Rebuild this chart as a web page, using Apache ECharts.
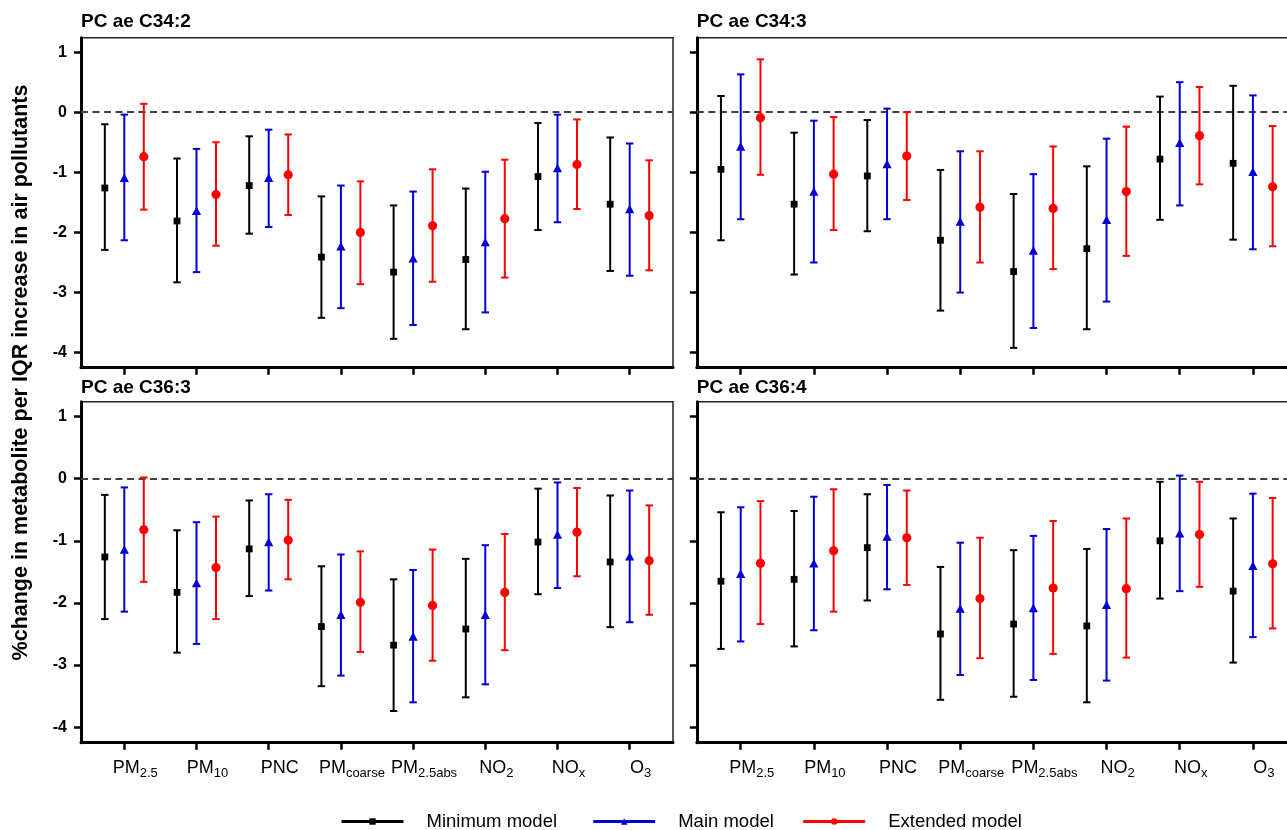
<!DOCTYPE html>
<html>
<head>
<meta charset="utf-8">
<script src="https://cdn.jsdelivr.net/npm/echarts@6/dist/echarts.min.js"></script>
<style>
  html, body { margin: 0; padding: 0; background: #fff; }
  #chart { width: 1287px; height: 830px; }
</style>
</head>
<body>
<div id="chart"></div>
<script>
// Pollutant labels: main text and subscript
const pollutantMain = ['PM', 'PM', 'PNC', 'PM', 'PM', 'NO', 'NO', 'O'];
const pollutantSub = ['2.5', '10', '', 'coarse', '2.5abs', '2', 'x', '3'];
const yTickValues = [-4, -3, -2, -1, 0, 1];
const panelTitles = ['PC ae C34:2', 'PC ae C34:3', 'PC ae C36:3', 'PC ae C36:4'];
const modelNames = ['Minimum model', 'Main model', 'Extended model'];

// Each row: [lower 95% CI, estimate, upper 95% CI], one row per pollutant
const c342Minimum = [[-2.29, -1.26, -0.20], [-2.83, -1.81, -0.77], [-2.02, -1.22, -0.40], [-3.42, -2.41, -1.40], [-3.77, -2.66, -1.55], [-3.61, -2.45, -1.27], [-1.96, -1.07, -0.18], [-2.64, -1.53, -0.42]];
const c342Main = [[-2.13, -1.10, -0.04], [-2.66, -1.65, -0.61], [-1.91, -1.10, -0.29], [-3.26, -2.24, -1.22], [-3.54, -2.44, -1.32], [-3.33, -2.17, -0.99], [-1.83, -0.94, -0.04], [-2.72, -1.62, -0.52]];
const c342Extended = [[-1.62, -0.74, 0.14], [-2.22, -1.37, -0.50], [-1.71, -1.04, -0.37], [-2.86, -2.00, -1.15], [-2.82, -1.89, -0.95], [-2.75, -1.77, -0.79], [-1.61, -0.87, -0.12], [-2.63, -1.72, -0.80]];

const c343Minimum = [[-2.13, -0.95, 0.27], [-2.70, -1.53, -0.34], [-1.98, -1.06, -0.13], [-3.30, -2.13, -0.96], [-3.92, -2.65, -1.36], [-3.61, -2.27, -0.90], [-1.79, -0.78, 0.26], [-2.12, -0.85, 0.44]];
const c343Main = [[-1.78, -0.58, 0.63], [-2.50, -1.33, -0.14], [-1.78, -0.87, 0.06], [-3.00, -1.83, -0.65], [-3.59, -2.31, -1.03], [-3.15, -1.80, -0.44], [-1.55, -0.52, 0.50], [-2.28, -1.00, 0.28]];
const c343Extended = [[-1.04, -0.09, 0.88], [-1.96, -1.03, -0.08], [-1.46, -0.73, 0.00], [-2.50, -1.58, -0.65], [-2.61, -1.60, -0.57], [-2.39, -1.32, -0.24], [-1.20, -0.39, 0.42], [-2.23, -1.24, -0.23]];

const c363Minimum = [[-2.26, -1.26, -0.26], [-2.80, -1.83, -0.83], [-1.89, -1.13, -0.35], [-3.34, -2.38, -1.41], [-3.74, -2.68, -1.62], [-3.52, -2.42, -1.29], [-1.86, -1.02, -0.16], [-2.39, -1.34, -0.27]];
const c363Main = [[-2.14, -1.15, -0.14], [-2.66, -1.69, -0.70], [-1.80, -1.03, -0.25], [-3.17, -2.20, -1.22], [-3.60, -2.55, -1.47], [-3.31, -2.20, -1.07], [-1.76, -0.91, -0.06], [-2.31, -1.26, -0.19]];
const c363Extended = [[-1.66, -0.82, 0.02], [-2.26, -1.43, -0.61], [-1.62, -0.99, -0.34], [-2.79, -1.99, -1.17], [-2.93, -2.04, -1.14], [-2.76, -1.83, -0.89], [-1.57, -0.86, -0.15], [-2.19, -1.32, -0.43]];

const c364Minimum = [[-2.74, -1.65, -0.54], [-2.70, -1.62, -0.52], [-1.96, -1.11, -0.25], [-3.56, -2.50, -1.42], [-3.51, -2.34, -1.15], [-3.60, -2.37, -1.13], [-1.93, -1.00, -0.05], [-2.96, -1.81, -0.64]];
const c364Main = [[-2.62, -1.54, -0.46], [-2.44, -1.37, -0.29], [-1.78, -0.94, -0.10], [-3.16, -2.10, -1.03], [-3.24, -2.09, -0.92], [-3.25, -2.04, -0.81], [-1.81, -0.89, 0.05], [-2.55, -1.41, -0.24]];
const c364Extended = [[-2.34, -1.36, -0.36], [-2.14, -1.16, -0.17], [-1.71, -0.95, -0.19], [-2.89, -1.93, -0.95], [-2.82, -1.76, -0.68], [-2.88, -1.77, -0.64], [-1.74, -0.90, -0.05], [-2.41, -1.37, -0.31]];

const panelData = [
  [c342Minimum, c342Main, c342Extended],
  [c343Minimum, c343Main, c343Extended],
  [c363Minimum, c363Main, c363Extended],
  [c364Minimum, c364Main, c364Extended]
];

const FONT = '"Liberation Sans", Arial, sans-serif';
const modelColors = ['#000000', '#0000D6', '#FF0000'];
const modelSymbols = ['rect', 'triangle', 'circle'];
const modelOffsets = [-0.27, 0, 0.27];

// Panel boxes (px); the right-hand panels run slightly past the canvas edge
const grids = [
  { left: 81, top: 37.7, width: 592, height: 330 },
  { left: 696.8, top: 37.7, width: 600, height: 330 },
  { left: 81, top: 401.7, width: 592, height: 341 },
  { left: 696.8, top: 401.7, width: 600, height: 341 }
];

const categoryTicks = pollutantMain.map((_, i) => i + 1);

function pollutantLabel(value) {
  const i = Math.round(value) - 1;
  if (i < 0 || i >= pollutantMain.length) return '';
  const sub = pollutantSub[i];
  return '{m|' + pollutantMain[i] + '}' + (sub ? '{s|' + sub + '}' : '');
}

function drawMarker(model, p, color) {
  const x = p[0], y = p[1];
  if (model === 0) {
    return { type: 'rect', shape: { x: x - 3.4, y: y - 3.4, width: 6.8, height: 6.8 }, style: { fill: color } };
  }
  if (model === 1) {
    return { type: 'polygon', shape: { points: [[x, y - 5], [x - 4.6, y + 3.6], [x + 4.6, y + 3.6]] }, style: { fill: color } };
  }
  return { type: 'circle', shape: { cx: x, cy: y, r: 4.6 }, style: { fill: color } };
}

function errorBarRenderer(model) {
  const color = modelColors[model];
  const offset = modelOffsets[model];
  return function (params, api) {
    const x = api.value(0) + offset;
    const lo = api.coord([x, api.value(1)]);
    const est = api.coord([x, api.value(2)]);
    const hi = api.coord([x, api.value(3)]);
    const cap = 3.7;
    const stroke = { stroke: color, lineWidth: 2 };
    return {
      type: 'group',
      children: [
        { type: 'line', shape: { x1: hi[0], y1: hi[1], x2: lo[0], y2: lo[1] }, style: stroke },
        { type: 'line', shape: { x1: hi[0] - cap, y1: hi[1], x2: hi[0] + cap, y2: hi[1] }, style: stroke },
        { type: 'line', shape: { x1: lo[0] - cap, y1: lo[1], x2: lo[0] + cap, y2: lo[1] }, style: stroke },
        drawMarker(model, est, color)
      ]
    };
  };
}

const xAxes = grids.map((g, p) => ({
  type: 'value',
  gridIndex: p,
  min: 0.4,
  max: 8.6,
  splitLine: { show: false },
  axisLine: { show: true, onZero: false, lineStyle: { color: '#000', width: 3 } },
  axisTick: { show: true, customValues: categoryTicks, length: 7, lineStyle: { color: '#000', width: 2.5 } },
  axisLabel: {
    show: p >= 2,
    customValues: categoryTicks,
    formatter: pollutantLabel,
    margin: 13,
    padding: [0, 0, 0, 22],
    color: '#000',
    rich: {
      m: { fontFamily: FONT, fontSize: 18, lineHeight: 24, color: '#000' },
      s: { fontFamily: FONT, fontSize: 13, lineHeight: 13, verticalAlign: 'bottom', color: '#000' }
    }
  }
}));

const yAxes = grids.map((g, p) => ({
  type: 'value',
  gridIndex: p,
  min: -4.25,
  max: 1.24,
  splitLine: { show: false },
  axisLine: { show: true, onZero: false, lineStyle: { color: '#000', width: 3 } },
  axisTick: { show: true, customValues: yTickValues, length: 7, lineStyle: { color: '#000', width: 2.5 } },
  axisLabel: {
    show: p % 2 === 0,
    customValues: yTickValues,
    margin: 14,
    color: '#000',
    fontFamily: FONT,
    fontWeight: 'bold',
    fontSize: 16
  }
}));

const series = [];
panelData.forEach((models, p) => {
  models.forEach((rows, m) => {
    const s = {
      type: 'custom',
      name: panelTitles[p] + ' ' + modelNames[m],
      xAxisIndex: p,
      yAxisIndex: p,
      data: rows.map((r, i) => [i + 1, r[0], r[1], r[2]]),
      encode: { x: 0, y: [1, 2, 3] },
      renderItem: errorBarRenderer(m),
      silent: true,
      z: 3
    };
    if (m === 0) {
      // dashed reference line at zero change
      s.markLine = {
        silent: true,
        symbol: ['none', 'none'],
        label: { show: false },
        lineStyle: { type: [7, 4.5], color: '#404040', width: 2 },
        data: [{ yAxis: 0 }],
        z: 1
      };
    }
    series.push(s);
  });
});

// Legend-only series carrying each model's line and symbol
modelNames.forEach((name, m) => {
  series.push({
    type: 'line',
    name: name,
    xAxisIndex: 0,
    yAxisIndex: 0,
    data: [],
    symbol: modelSymbols[m],
    color: modelColors[m],
    lineStyle: { color: modelColors[m], width: 3 },
    itemStyle: { color: modelColors[m] }
  });
});

const legendLefts = [340, 591.7, 801.7];
const legends = modelNames.map((name, m) => ({
  data: [name],
  left: legendLefts[m],
  top: 812,
  padding: 0,
  itemWidth: 62,
  itemHeight: 8,
  selectedMode: false,
  lineStyle: { width: 3 },
  textStyle: { fontFamily: FONT, fontSize: 18.5, color: '#000', padding: [0, 0, 0, 18] }
}));

const titles = panelTitles.map((t, p) => ({
  text: t,
  left: grids[p].left,
  top: p < 2 ? 12.4 : 378.7,
  padding: 0,
  textStyle: { fontFamily: FONT, fontWeight: 'bold', fontSize: 19, color: '#000' }
}));

const chart = echarts.init(document.getElementById('chart'), null, { renderer: 'canvas' });
chart.setOption({
  backgroundColor: '#fff',
  animation: false,
  title: titles,
  legend: legends,
  grid: grids.map(g => Object.assign({
    show: true,
    borderColor: '#222',
    borderWidth: 1.5,
    backgroundColor: 'transparent',
    containLabel: false,
    outerBoundsMode: 'none'
  }, g)),
  xAxis: xAxes,
  yAxis: yAxes,
  series: series,
  graphic: [{
    type: 'text',
    x: 21,
    y: 372.5,
    rotation: Math.PI / 2,
    style: {
      text: '%change in metabolite per IQR increase in air pollutants',
      font: 'bold 21.5px "Liberation Sans", Arial, sans-serif',
      fill: '#000',
      textAlign: 'center',
      textVerticalAlign: 'middle'
    }
  }]
});
</script>
</body>
</html>
